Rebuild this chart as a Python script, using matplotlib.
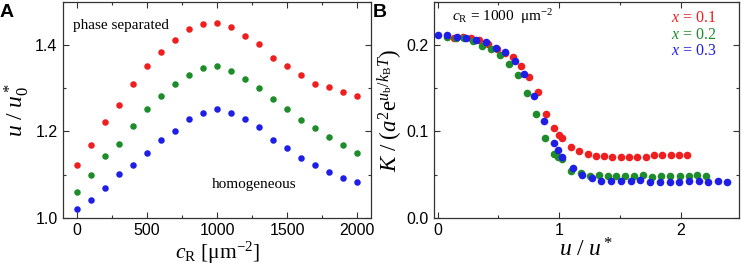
import numpy as np
import matplotlib
matplotlib.use('Agg')
from matplotlib import pyplot as plt
from matplotlib.ticker import MultipleLocator

plt.rcParams['font.family'] = ['Liberation Sans', 'DejaVu Sans']
plt.rcParams['mathtext.fontset'] = 'custom'
plt.rcParams['mathtext.rm'] = 'Liberation Serif'
plt.rcParams['mathtext.it'] = 'Liberation Serif:italic'
plt.rcParams['mathtext.bf'] = 'Liberation Serif:bold'

RED = '#f01e1e'
GREEN = '#1e8c2a'
BLUE = '#1e1ee6'

# panel A: critical binding energy vs receptor density
cR = [0, 100, 200, 300, 400, 500, 600, 700, 800, 900, 1000,
      1100, 1200, 1300, 1400, 1500, 1600, 1700, 1800, 1900, 2000]
uA_red = [1.122, 1.168, 1.221, 1.262, 1.310, 1.351, 1.385, 1.412, 1.438, 1.449, 1.451,
          1.442, 1.422, 1.403, 1.371, 1.351, 1.330, 1.311, 1.302, 1.292, 1.281]
uA_green = [1.060, 1.099, 1.143, 1.171, 1.212, 1.252, 1.282, 1.310, 1.330, 1.347, 1.351,
            1.341, 1.321, 1.301, 1.276, 1.252, 1.227, 1.207, 1.188, 1.168, 1.151]
uA_blue = [1.021, 1.041, 1.070, 1.101, 1.122, 1.151, 1.181, 1.201, 1.229, 1.242, 1.252,
           1.242, 1.230, 1.211, 1.181, 1.161, 1.138, 1.123, 1.107, 1.092, 1.082]

# panel B: K vs u/u*, cR = 1000
uB_red = [0.134, 0.205, 0.271, 0.342, 0.416, 0.485, 0.553, 0.616, 0.685, 0.753, 0.822,
          0.890, 0.956, 0.997, 1.027, 1.096, 1.164, 1.233, 1.301, 1.370, 1.438, 1.507,
          1.575, 1.644, 1.712, 1.781, 1.849, 1.918, 1.986, 2.055]
K_red = [0.2077, 0.2097, 0.2077, 0.2058, 0.2008, 0.1958, 0.1911, 0.1861, 0.1757, 0.1633,
         0.1459, 0.1197, 0.1035, 0.0965, 0.0919, 0.0822, 0.0772, 0.0734, 0.0722, 0.0722,
         0.0707, 0.0707, 0.0707, 0.0707, 0.0707, 0.0726, 0.0726, 0.0726, 0.0726, 0.0726]
uB_green = [0.077, 0.151, 0.216, 0.293, 0.362, 0.438, 0.512, 0.589, 0.663, 0.737, 0.808,
            0.882, 0.956, 0.992, 1.027, 1.101, 1.178, 1.252, 1.326, 1.403, 1.471, 1.545,
            1.616, 1.690, 1.767, 1.841, 1.915, 1.992, 2.066, 2.137, 2.205]
K_green = [0.2097, 0.2077, 0.2077, 0.2046, 0.1988, 0.1958, 0.1884, 0.1776, 0.1649, 0.1448,
           0.1197, 0.0927, 0.0741, 0.0707, 0.0676, 0.0541, 0.0514, 0.0483, 0.0502, 0.0483,
           0.0483, 0.0483, 0.0490, 0.0502, 0.0475, 0.0483, 0.0483, 0.0483, 0.0483, 0.0494,
           0.0483]
uB_blue = [0.000, 0.074, 0.156, 0.230, 0.312, 0.395, 0.479, 0.553, 0.636, 0.712, 0.792,
           0.874, 0.956, 0.992, 1.027, 1.115, 1.189, 1.271, 1.348, 1.430, 1.512, 1.589,
           1.668, 1.751, 1.827, 1.910, 1.986, 2.068, 2.148, 2.227, 2.307, 2.384]
K_blue = [0.2116, 0.2116, 0.2097, 0.2077, 0.2058, 0.2039, 0.1969, 0.1923, 0.1815, 0.1660,
          0.1410, 0.1120, 0.0869, 0.0780, 0.0703, 0.0579, 0.0502, 0.0463, 0.0425, 0.0425,
          0.0425, 0.0425, 0.0436, 0.0417, 0.0417, 0.0417, 0.0417, 0.0425, 0.0425, 0.0417,
          0.0425, 0.0413]


def style_axes(ax):
    for sp in ax.spines.values():
        sp.set_color('#333333')
        sp.set_linewidth(0.9)
    ax.tick_params(which='both', direction='in', top=True, right=True,
                   color='#333333', labelsize=11.5, pad=4)
    ax.tick_params(which='major', length=4, width=0.8)
    ax.tick_params(which='minor', length=2.5, width=0.8)


fig = plt.figure(figsize=(7.42, 2.70), dpi=100)
axA = fig.add_axes([0.085, 0.193, 0.415, 0.800])
axB = fig.add_axes([0.585, 0.193, 0.411, 0.800])

# panel A
sz = 22
axA.scatter(cR, uA_red, s=sz, color=RED, lw=0, zorder=3)
axA.scatter(cR, uA_green, s=sz, color=GREEN, lw=0, zorder=3)
axA.scatter(cR, uA_blue, s=sz, color=BLUE, lw=0, zorder=3)
axA.set_xlim(-100, 2100)
axA.set_ylim(1.0, 1.5)
axA.xaxis.set_major_locator(MultipleLocator(500))
axA.xaxis.set_minor_locator(MultipleLocator(250))
axA.yaxis.set_major_locator(MultipleLocator(0.2))
axA.yaxis.set_minor_locator(MultipleLocator(0.1))
axA.yaxis.set_major_formatter(matplotlib.ticker.FormatStrFormatter('%.1f'))
style_axes(axA)
axA.set_xlabel(r'$c_\mathrm{R}$ [$\mathrm{\mu m}^{-2}$]', fontsize=15.5,
               family='Liberation Serif', labelpad=1)
axA.set_ylabel(r'$u\ /\ u_0^*$', fontsize=17, labelpad=3)
axA.text(-30, 1.445, 'phase separated', family='Liberation Serif', fontsize=11,
         va='center', ha='left')
axA.text(960, 1.077, 'homogeneous', family='Liberation Serif', fontsize=11,
         va='center', ha='left')
fig.text(0.0, 0.955, 'A', fontsize=14, fontweight='bold', va='center')

# panel B
szB = 30
axB.scatter(uB_red, K_red, s=szB, color=RED, lw=0, zorder=3)
axB.scatter(uB_green, K_green, s=szB, color=GREEN, lw=0, zorder=4)
axB.scatter(uB_blue, K_blue, s=szB, color=BLUE, lw=0, zorder=5)
axB.set_xlim(-0.03, 2.48)
axB.set_ylim(0.0, 0.25)
axB.xaxis.set_major_locator(MultipleLocator(1))
axB.xaxis.set_minor_locator(MultipleLocator(0.5))
axB.yaxis.set_major_locator(MultipleLocator(0.1))
axB.yaxis.set_minor_locator(MultipleLocator(0.05))
axB.yaxis.set_major_formatter(matplotlib.ticker.FormatStrFormatter('%.1f'))
style_axes(axB)
axB.set_xlabel(r'$u\ /\ u^*$', fontsize=17, labelpad=0)
axB.set_ylabel(r'$K\ /\ (a^2\mathrm{e}^{u_\mathrm{b}/k_\mathrm{B}T})$', fontsize=16.5, labelpad=1)
axB.text(0.06, 0.93, r'$c_\mathrm{R}$ = 1000  $\mathrm{\mu m}^{-2}$', transform=axB.transAxes,
         family='Liberation Serif', fontsize=11, va='center', ha='left')
for i, (lab, c) in enumerate([('0.1', RED), ('0.2', GREEN), ('0.3', BLUE)]):
    axB.text(0.925, 0.925 - i * 0.077, r'$x$ = ' + lab, transform=axB.transAxes,
             family='Liberation Serif', fontsize=11.5, color=c, va='center', ha='right')
fig.text(0.503, 0.955, 'B', fontsize=14, fontweight='bold', va='center')

fig.savefig('out.png', dpi=100)
